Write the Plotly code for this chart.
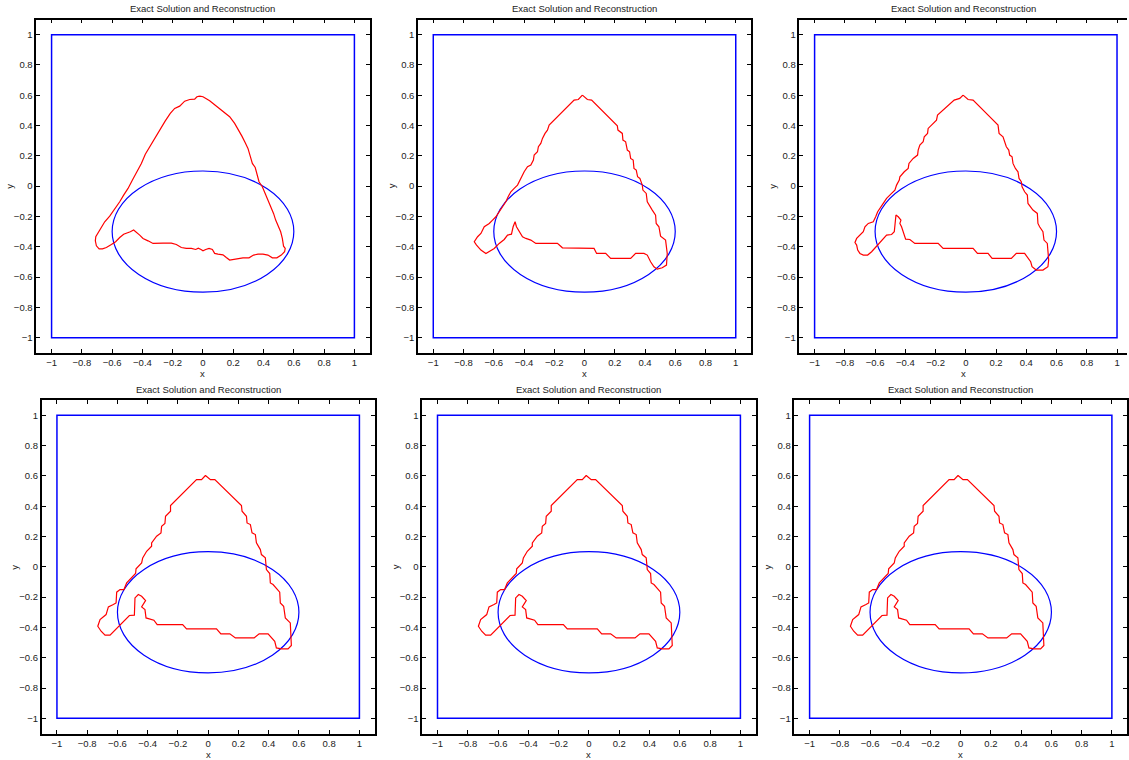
import plotly.graph_objects as go

TITLE = "Exact Solution and Reconstruction"
TICKS = [-1, -0.8, -0.6, -0.4, -0.2, 0, 0.2, 0.4, 0.6, 0.8, 1]

# exact inclusion (ellipse) and the computational domain (square)
ELLIPSE_CENTER = (0.0, -0.3)
ELLIPSE_RADII = (0.6, 0.4)
DOMAIN = (-1.0, 1.0)

# reconstructed boundaries, one closed contour per iterate
recon1_x = [-0.022, 0.0, 0.044, 0.088, 0.132, 0.176, 0.209, 0.238, 0.257, 0.279, 0.297, 0.312, 0.326, 0.345, 0.359,
            0.370, 0.392, 0.411, 0.429, 0.451, 0.466, 0.480, 0.495, 0.513, 0.524, 0.532, 0.543, 0.539, 0.517, 0.488,
            0.458, 0.429, 0.396, 0.363, 0.334, 0.304, 0.264, 0.231, 0.198, 0.176, 0.154, 0.132, 0.099, 0.077, 0.062,
            0.040, 0.018, 0.0, -0.013, -0.031, -0.048, -0.077, -0.110, -0.143, -0.176, -0.209, -0.264, -0.330, -0.363,
            -0.396, -0.418, -0.440, -0.458, -0.480, -0.506, -0.524, -0.550, -0.577, -0.605, -0.638, -0.664, -0.686,
            -0.704, -0.711, -0.708, -0.689, -0.671, -0.649, -0.616, -0.583, -0.550, -0.524, -0.495, -0.466, -0.436,
            -0.407, -0.381, -0.352, -0.319, -0.286, -0.249, -0.216, -0.187, -0.154, -0.121, -0.088, -0.055, -0.040,
            -0.022]
recon1_y = [0.594, 0.590, 0.563, 0.528, 0.495, 0.458, 0.414, 0.365, 0.330, 0.286, 0.249, 0.198, 0.150, 0.123, 0.073,
            0.029, -0.004, -0.048, -0.092, -0.136, -0.180, -0.224, -0.257, -0.301, -0.345, -0.396, -0.411, -0.433,
            -0.455, -0.473, -0.473, -0.455, -0.449, -0.449, -0.455, -0.473, -0.473, -0.480, -0.488, -0.488, -0.471,
            -0.453, -0.449, -0.444, -0.418, -0.411, -0.418, -0.427, -0.418, -0.409, -0.418, -0.411, -0.411, -0.405,
            -0.385, -0.376, -0.376, -0.378, -0.361, -0.345, -0.323, -0.301, -0.290, -0.301, -0.308, -0.317, -0.339,
            -0.367, -0.385, -0.405, -0.414, -0.414, -0.394, -0.361, -0.334, -0.301, -0.268, -0.235, -0.198, -0.152,
            -0.103, -0.059, -0.015, 0.040, 0.095, 0.150, 0.211, 0.260, 0.321, 0.374, 0.431, 0.480, 0.513, 0.528,
            0.561, 0.572, 0.574, 0.590, 0.594]

recon2_x = [-0.014, -0.041, -0.069, -0.080, -0.135, -0.168, -0.201, -0.234, -0.245, -0.261, -0.278, -0.289, -0.305,
            -0.311, -0.333, -0.338, -0.355, -0.377, -0.399, -0.421, -0.432, -0.443, -0.465, -0.487, -0.505, -0.520,
            -0.542, -0.564, -0.586, -0.608, -0.630, -0.663, -0.685, -0.707, -0.729, -0.714, -0.685, -0.652, -0.597,
            -0.564, -0.531, -0.509, -0.483, -0.472, -0.459, -0.450, -0.432, -0.410, -0.388, -0.355, -0.322, -0.179,
            -0.146, 0.063, 0.080, 0.140, 0.173, 0.305, 0.338, 0.393, 0.415, 0.437, 0.459, 0.481, 0.514, 0.542, 0.547,
            0.536, 0.503, 0.492, 0.474, 0.470, 0.448, 0.430, 0.415, 0.408, 0.386, 0.382, 0.366, 0.351, 0.342, 0.327,
            0.322, 0.305, 0.298, 0.283, 0.272, 0.254, 0.250, 0.221, 0.217, 0.047, 0.019, -0.014]
recon2_y = [0.601, 0.572, 0.568, 0.557, 0.502, 0.469, 0.436, 0.403, 0.370, 0.348, 0.315, 0.282, 0.260, 0.227, 0.205,
            0.172, 0.139, 0.128, 0.095, 0.051, 0.040, 0.007, -0.015, -0.037, -0.070, -0.103, -0.136, -0.169, -0.202,
            -0.224, -0.246, -0.268, -0.312, -0.334, -0.367, -0.389, -0.422, -0.444, -0.411, -0.378, -0.352, -0.323,
            -0.317, -0.268, -0.235, -0.268, -0.301, -0.334, -0.345, -0.356, -0.378, -0.378, -0.407, -0.411, -0.444,
            -0.444, -0.477, -0.477, -0.444, -0.444, -0.455, -0.499, -0.532, -0.548, -0.539, -0.521, -0.444, -0.356,
            -0.330, -0.268, -0.246, -0.191, -0.158, -0.125, -0.103, -0.048, -0.026, 0.007, 0.051, 0.062, 0.106, 0.117,
            0.172, 0.183, 0.227, 0.238, 0.293, 0.304, 0.348, 0.370, 0.398, 0.568, 0.572, 0.601]

recon3_x = [-0.018, -0.040, -0.077, -0.106, -0.150, -0.187, -0.194, -0.216, -0.249, -0.253, -0.275, -0.282, -0.304,
            -0.315, -0.319, -0.348, -0.376, -0.381, -0.407, -0.436, -0.440, -0.458, -0.469, -0.491, -0.524, -0.546,
            -0.568, -0.583, -0.596, -0.612, -0.645, -0.667, -0.678, -0.700, -0.722, -0.733, -0.722, -0.715, -0.700,
            -0.678, -0.649, -0.623, -0.590, -0.557, -0.524, -0.491, -0.473, -0.462, -0.447, -0.429, -0.436, -0.425,
            -0.414, -0.407, -0.398, -0.370, -0.348, -0.337, -0.183, -0.150, 0.048, 0.077, 0.147, 0.174, 0.301, 0.334,
            0.389, 0.407, 0.429, 0.438, 0.466, 0.510, 0.543, 0.548, 0.539, 0.517, 0.510, 0.488, 0.477, 0.473, 0.444,
            0.411, 0.407, 0.389, 0.372, 0.367, 0.352, 0.345, 0.328, 0.312, 0.306, 0.290, 0.284, 0.268, 0.257, 0.246,
            0.220, 0.213, 0.169, 0.103, 0.048, 0.015, -0.018]
recon3_y = [0.601, 0.579, 0.568, 0.541, 0.502, 0.469, 0.436, 0.414, 0.381, 0.348, 0.326, 0.293, 0.271, 0.238, 0.205,
            0.183, 0.150, 0.117, 0.095, 0.062, 0.040, 0.007, -0.026, -0.048, -0.081, -0.114, -0.147, -0.169, -0.202,
            -0.235, -0.246, -0.268, -0.301, -0.323, -0.345, -0.372, -0.389, -0.422, -0.444, -0.455, -0.455, -0.433,
            -0.396, -0.356, -0.323, -0.319, -0.301, -0.191, -0.202, -0.224, -0.246, -0.268, -0.301, -0.334, -0.350,
            -0.352, -0.367, -0.378, -0.378, -0.411, -0.411, -0.444, -0.444, -0.477, -0.477, -0.444, -0.444, -0.466,
            -0.499, -0.532, -0.554, -0.554, -0.532, -0.488, -0.378, -0.356, -0.301, -0.268, -0.246, -0.180, -0.158,
            -0.114, -0.059, -0.037, -0.004, 0.029, 0.051, 0.095, 0.117, 0.150, 0.194, 0.205, 0.238, 0.260, 0.293,
            0.326, 0.348, 0.403, 0.447, 0.513, 0.568, 0.572, 0.601]

# the last three iterates have settled on the same contour
recon4_x = [-0.018, -0.044, -0.077, -0.187, -0.220, -0.249, -0.249, -0.282, -0.286, -0.308, -0.312, -0.341, -0.374,
            -0.374, -0.407, -0.433, -0.440, -0.477, -0.480, -0.506, -0.539, -0.557, -0.583, -0.605, -0.609, -0.627,
            -0.660, -0.675, -0.715, -0.730, -0.708, -0.682, -0.649, -0.521, -0.488, -0.484, -0.462, -0.440, -0.414,
            -0.440, -0.418, -0.411, -0.389, -0.359, -0.337, -0.169, -0.143, 0.055, 0.084, 0.143, 0.180, 0.304, 0.337,
            0.396, 0.440, 0.451, 0.484, 0.528, 0.550, 0.543, 0.510, 0.499, 0.477, 0.473, 0.429, 0.411, 0.407, 0.385,
            0.378, 0.352, 0.345, 0.319, 0.312, 0.290, 0.279, 0.257, 0.253, 0.224, 0.220, 0.044, 0.015, -0.018]
recon4_y = [0.603, 0.576, 0.576, 0.466, 0.431, 0.405, 0.367, 0.334, 0.286, 0.268, 0.224, 0.202, 0.158, 0.136, 0.103,
            0.059, 0.026, -0.013, -0.044, -0.073, -0.106, -0.150, -0.150, -0.167, -0.238, -0.249, -0.264, -0.315,
            -0.348, -0.392, -0.425, -0.451, -0.451, -0.321, -0.319, -0.205, -0.183, -0.194, -0.222, -0.264, -0.282,
            -0.337, -0.343, -0.352, -0.381, -0.381, -0.409, -0.409, -0.442, -0.442, -0.469, -0.469, -0.442, -0.442,
            -0.491, -0.535, -0.541, -0.541, -0.519, -0.370, -0.337, -0.260, -0.238, -0.167, -0.117, -0.106, -0.044,
            -0.018, 0.059, 0.081, 0.114, 0.158, 0.213, 0.224, 0.279, 0.290, 0.334, 0.367, 0.405, 0.576, 0.576, 0.603]

curves = [(recon1_x, recon1_y), (recon2_x, recon2_y), (recon3_x, recon3_y),
          (recon4_x, recon4_y), (recon4_x, recon4_y), (recon4_x, recon4_y)]

W, H = 1129, 760
# axes boxes in pixels: left, right, top, bottom, upper x limit
boxes = [
    (36.5, 370.2, 19.5, 352.8, 1.1),
    (418.9, 752.2, 19.5, 352.8, 1.1),
    (800.9, 1129.0, 19.5, 352.8, 1.066),
    (41.9, 375.2, 400.2, 733.5, 1.1),
    (423.1, 756.9, 400.2, 733.5, 1.1),
    (795.9, 1129.0, 400.2, 733.5, 1.1),
]
FONT = dict(family="Liberation Sans, Arial, Helvetica, sans-serif", size=9.5, color="#222222")

fig = go.Figure()
layout = dict(width=W, height=H, margin=dict(l=0, r=0, t=0, b=0),
              paper_bgcolor="white", plot_bgcolor="white", showlegend=False,
              hovermode=False, font=FONT)
shapes = []
annotations = []

for i, ((cx, cy), (l, r, t, b, xmax)) in enumerate(zip(curves, boxes), start=1):
    sfx = "" if i == 1 else str(i)
    xa, ya = "x" + sfx, "y" + sfx
    fig.add_trace(go.Scatter(x=cx, y=cy, mode="lines", xaxis=xa, yaxis=ya,
                             line=dict(color="#ff0000", width=1.2), hoverinfo="skip"))
    common = dict(tickvals=TICKS, ticks="inside", ticklen=4, tickwidth=1, tickcolor="black",
                  showline=True, linecolor="black", linewidth=1.8, showgrid=False, zeroline=False,
                  tickfont=FONT, fixedrange=True)
    layout["xaxis" + sfx] = dict(common, domain=[l / W, r / W], anchor=ya, range=[-1.1, xmax],
                                 mirror="ticks")
    layout["yaxis" + sfx] = dict(common, domain=[1 - b / H, 1 - t / H], anchor=xa, range=[-1.1, 1.1],
                                 mirror="ticks" if xmax >= 1.1 else False)
    shapes.append(dict(type="rect", xref=xa, yref=ya, x0=DOMAIN[0], x1=DOMAIN[1], y0=DOMAIN[0], y1=DOMAIN[1],
                       line=dict(color="#0000ff", width=1.5), layer="below"))
    shapes.append(dict(type="circle", xref=xa, yref=ya,
                       x0=ELLIPSE_CENTER[0] - ELLIPSE_RADII[0], x1=ELLIPSE_CENTER[0] + ELLIPSE_RADII[0],
                       y0=ELLIPSE_CENTER[1] - ELLIPSE_RADII[1], y1=ELLIPSE_CENTER[1] + ELLIPSE_RADII[1],
                       line=dict(color="#0000ff", width=1.2), layer="below"))
    cxp = (l + min(r, l + 333.7)) / 2
    annotations.append(dict(text=TITLE, x=cxp / W, y=1 - (t - 10.5) / H, xref="paper", yref="paper",
                            xanchor="center", yanchor="middle", showarrow=False, font=FONT))
    annotations.append(dict(text="x", x=cxp / W, y=1 - (b + 20.5) / H, xref="paper", yref="paper",
                            xanchor="center", yanchor="middle", showarrow=False, font=FONT))
    annotations.append(dict(text="y", x=(l - 27) / W, y=1 - (t + b) / 2 / H, xref="paper", yref="paper",
                            xanchor="center", yanchor="middle", showarrow=False, textangle=-90, font=FONT))

layout["shapes"] = shapes
layout["annotations"] = annotations
fig.update_layout(**layout)
fig.write_html("out.html")
